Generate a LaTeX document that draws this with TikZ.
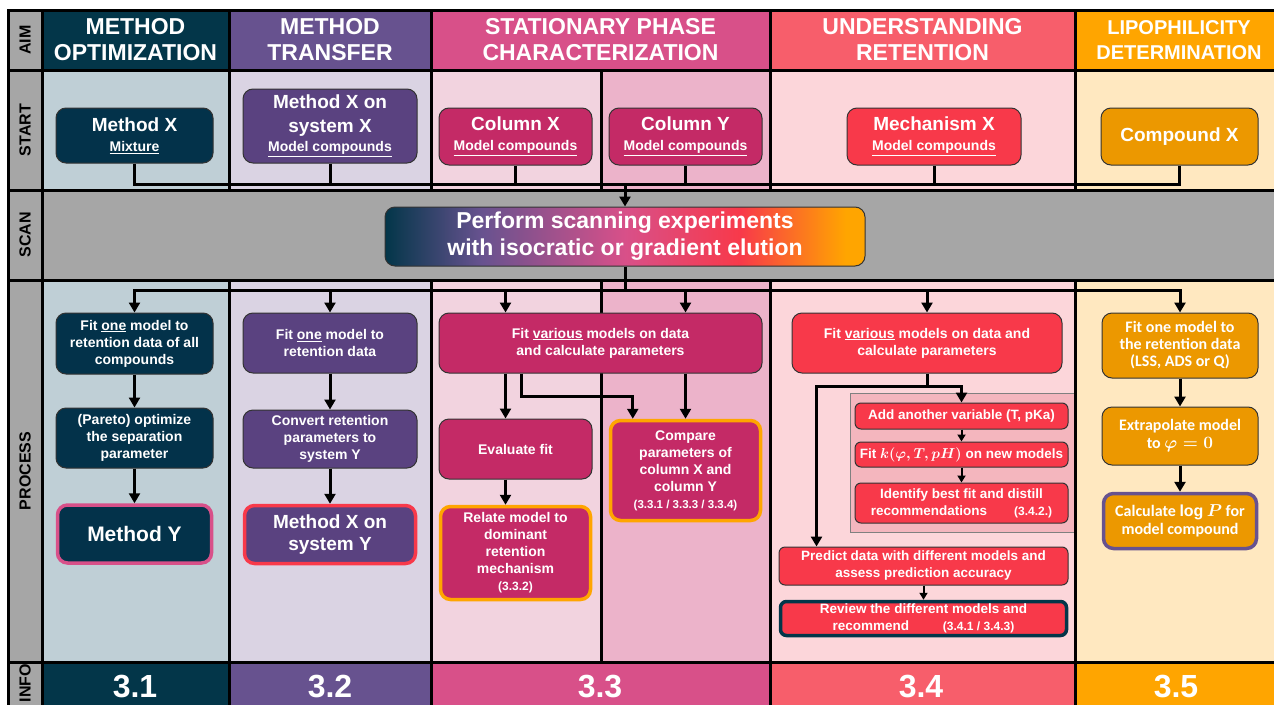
\documentclass[tikz,border=0pt]{standalone}
\usepackage{fontspec}
\setmainfont{Liberation Sans}
\newfontfamily\carlito{Carlito}
\usepackage{tikz}
\usetikzlibrary{arrows.meta, positioning, calc}

\definecolor{tealH}{HTML}{033649}
\definecolor{tealN}{HTML}{03324A}
\definecolor{tealL}{HTML}{BFCFD6}
\definecolor{purpH}{HTML}{67528F}
\definecolor{purpN}{HTML}{5A4280}
\definecolor{purpL}{HTML}{DAD3E3}
\definecolor{pinkH}{HTML}{D85089}
\definecolor{pinkN}{HTML}{C42A66}
\definecolor{pinkL}{HTML}{F2D3DF}
\definecolor{pinkM}{HTML}{ECB3CA}
\definecolor{redH}{HTML}{F75E6B}
\definecolor{redN}{HTML}{F8394A}
\definecolor{redL}{HTML}{FCD6DA}
\definecolor{redM}{HTML}{F4B6BE}
\definecolor{orgH}{HTML}{FFA500}
\definecolor{orgN}{HTML}{EC9800}
\definecolor{orgL}{HTML}{FFE8C0}
\definecolor{grayS}{HTML}{A6A6A6}

\pgfdeclarehorizontalshading{scanshade}{100bp}{color(0bp)=(tealH); color(25bp)=(tealH);
  color(35bp)=(purpH); color(50bp)=(pinkH); color(62bp)=(redN); color(73bp)=(orgH); color(100bp)=(orgH)}

\begin{document}
\begin{tikzpicture}[x=1pt, y=-1pt,
  hdr/.style={text=white, font=\bfseries\fontsize{23}{26}\selectfont, align=center},
  lbl/.style={rotate=90, font=\bfseries\fontsize{16}{18}\selectfont},
  sbox/.style={draw=black!80, line width=1pt, rounded corners=10pt, text=white, align=center,
               inner sep=2pt, font=\bfseries\fontsize{19}{24}\selectfont},
  pbox/.style={draw=black!80, line width=1pt, rounded corners=10pt, text=white, align=center,
               inner sep=2pt, font=\bfseries\fontsize{14}{17}\selectfont},
  hilite/.style={draw=#1, line width=3.5pt},
  conn/.style={line width=3pt},
  arr/.style={line width=3pt, -{Triangle[length=10pt, width=11pt]}},
  sarr/.style={line width=2pt, -{Triangle[length=7pt, width=8pt]}},
  info/.style={text=white, font=\bfseries\fontsize{32}{34}\selectfont}
]
  \useasboundingbox (0,0) rectangle (1274,704);
  \clip (0,0) rectangle (1274,704);

  % cells
  \fill[grayS] (8,10) rectangle (1290,720);
  \foreach \xa/\xb/\c in {42/229/tealL, 229/431/purpL, 431/601/pinkL, 601/770/pinkM, 770/1075/redL, 1075/1290/orgL} {
    \fill[\c] (\xa,70) rectangle (\xb,190);
    \fill[\c] (\xa,280) rectangle (\xb,662);
  }
  \foreach \xa/\xb/\c in {42/229/tealH, 229/431/purpH, 431/770/pinkH, 770/1075/redH, 1075/1290/orgH} {
    \fill[\c] (\xa,10) rectangle (\xb,70);
    \fill[\c] (\xa,662) rectangle (\xb,720);
  }
  \fill[redM, draw=black!50, line width=0.8pt] (850,393) rectangle (1075,532);

  % grid
  \begin{scope}[line width=3pt]
    \draw (8,720) -- (8,10) -- (1290,10);
    \foreach \y in {70,190,280,662} \draw (8,\y) -- (1290,\y);
    \draw (42,10) -- (42,720);
    \foreach \x in {229,431,770,1075} {
      \draw (\x,10) -- (\x,190);
      \draw (\x,280) -- (\x,720);
    }
    \draw (601,70) -- (601,190);
    \draw (601,280) -- (601,662);
  \end{scope}

  % row labels
  \node[lbl] (lAim) at (25,40) {AIM};
  \node[lbl] (lStart) at (25,130) {START};
  \node[lbl] (lScan) at (25,235) {SCAN};
  \node[lbl] (lProc) at (25,471) {PROCESS};
  \node[lbl] (lInfo) at (25,683) {INFO};

  % aims
  \node[hdr] (h1) at (135.5,40) {METHOD\\OPTIMIZATION};
  \node[hdr] (h2) at (330,40) {METHOD\\TRANSFER};
  \node[hdr] (h3) at (600.5,40) {STATIONARY PHASE\\CHARACTERIZATION};
  \node[hdr] (h4) at (922.5,40) {UNDERSTANDING\\RETENTION};
  \node[hdr, font=\bfseries\fontsize{20}{25}\selectfont] (h5) at (1179,40) {LIPOPHILICITY\\DETERMINATION};

  % start
  \node[sbox, fill=tealN, minimum width=157pt, minimum height=55pt] (s1) at (134.5,135.5)
    {Method X\\[-4pt]{\fontsize{14}{17}\selectfont\underline{Mixture}}};
  \node[sbox, fill=purpN, minimum width=174pt, minimum height=74pt] (s2) at (330,126)
    {Method X on\\system X\\[-5pt]{\fontsize{14}{17}\selectfont\underline{Model compounds}}};
  \node[sbox, fill=pinkN, minimum width=153pt, minimum height=57pt] (s3a) at (515.5,136.5)
    {Column X\\[-4pt]{\fontsize{14}{17}\selectfont\underline{Model compounds}}};
  \node[sbox, fill=pinkN, minimum width=153pt, minimum height=57pt] (s3b) at (685.5,136.5)
    {Column Y\\[-4pt]{\fontsize{14}{17}\selectfont\underline{Model compounds}}};
  \node[sbox, fill=redN, minimum width=174pt, minimum height=57pt] (s4) at (934,136.5)
    {Mechanism X\\[-4pt]{\fontsize{14}{17}\selectfont\underline{Model compounds}}};
  \node[sbox, fill=orgN, minimum width=157pt, minimum height=57pt] (s5) at (1179.5,136.5) {Compound X};

  % scan
  \node[draw=black!80, line width=1pt, rounded corners=10pt, shading=scanshade,
        minimum width=480pt, minimum height=59pt, text=white, align=center,
        font=\bfseries\fontsize{23}{27}\selectfont] (scan) at (625,236.5)
    {Perform scanning experiments\\with isocratic or gradient elution};

  % process: optimization
  \node[pbox, fill=tealN, minimum width=157pt, minimum height=61pt] (p1a) at (134.5,343.5)
    {Fit \underline{one} model to\\retention data of all\\compounds};
  \node[pbox, fill=tealN, minimum width=157pt, minimum height=60pt] (p1b) at (134.5,438)
    {(Pareto) optimize\\the separation\\parameter};
  \node[pbox, fill=tealN, hilite=pinkH, minimum width=154pt, minimum height=58pt,
        font=\bfseries\fontsize{21}{24}\selectfont] (p1c) at (134.5,534) {Method Y};

  % process: transfer
  \node[pbox, fill=purpN, minimum width=174pt, minimum height=60pt] (p2a) at (330,343)
    {Fit \underline{one} model to\\retention data};
  \node[pbox, fill=purpN, minimum width=174pt, minimum height=58pt] (p2b) at (330,439)
    {Convert retention\\parameters to\\system Y};
  \node[pbox, fill=purpN, hilite=redN, minimum width=171pt, minimum height=58pt,
        font=\bfseries\fontsize{19}{22}\selectfont] (p2c) at (330,534.5) {Method X on\\system Y};

  % process: stationary phase
  \node[pbox, fill=pinkN, minimum width=323pt, minimum height=60pt] (p3a) at (600.5,343)
    {Fit \underline{various} models on data\\and calculate parameters};
  \node[pbox, fill=pinkN, minimum width=153pt, minimum height=60pt] (ev) at (515.5,449) {Evaluate fit};
  \node[pbox, fill=pinkN, hilite=orgH, minimum width=150pt, minimum height=93pt] (rel) at (515.5,553)
    {Relate model to\\dominant\\retention\\mechanism\\{\fontsize{12}{13}\selectfont(3.3.2)}};
  \node[pbox, fill=pinkN, hilite=orgH, minimum width=150pt, minimum height=100pt] (cmp) at (685.5,470.5)
    {Compare\\parameters of\\column X and\\column Y\\{\fontsize{11.5}{14}\selectfont(3.3.1 / 3.3.3 / 3.3.4)}};
  \coordinate (t3l) at ($(p3a.north west)+(67,0)$);

  % process: retention
  \node[pbox, fill=redN, minimum width=270pt, minimum height=60pt] (p4a) at (927,343)
    {Fit \underline{various} models on data and\\calculate parameters};
  \node[pbox, fill=redN, font=\bfseries\fontsize{13.5}{17}\selectfont, minimum width=213pt, minimum height=26pt,
        rounded corners=6pt] (add) at (961.5,416) {Add another variable (T, pKa)};
  \node[pbox, fill=redN, font=\bfseries\fontsize{13.5}{17}\selectfont, minimum width=213pt, minimum height=25pt,
        rounded corners=6pt] (fitk) at (961.5,454.5) {Fit {\boldmath$k(\varphi,T,pH)$} on new models};
  \node[pbox, fill=redN, font=\bfseries\fontsize{13.5}{17}\selectfont, minimum width=213pt, minimum height=40pt,
        rounded corners=6pt] (idn) at (961.5,503)
    {Identify best fit and distill\\recommendations\hspace{2em}{\fontsize{12}{13}\selectfont(3.4.2.)}};
  \node[pbox, fill=redN, font=\bfseries\fontsize{13.5}{17}\selectfont, minimum width=289pt, minimum height=38pt,
        rounded corners=6pt] (pred) at (923.5,566)
    {Predict data with different models and\\assess prediction accuracy};
  \node[pbox, fill=redN, hilite=tealH, font=\bfseries\fontsize{13.5}{17}\selectfont, minimum width=286pt,
        minimum height=34pt, rounded corners=6pt] (rev) at (923.5,618.5)
    {Review the different models and\\recommend\hspace{2.5em}{\fontsize{12}{13}\selectfont(3.4.1 / 3.4.3)}};

  % process: lipophilicity
  \node[pbox, fill=orgN, font=\carlito\bfseries\fontsize{16}{17}\selectfont, minimum width=156pt,
        minimum height=65pt] (p5a) at (1180,345.5) {Fit one model to\\the retention data\\(LSS, ADS or Q)};
  \node[pbox, fill=orgN, font=\carlito\bfseries\fontsize{16}{18}\selectfont, minimum width=156pt,
        minimum height=58pt] (p5b) at (1180,436) {Extrapolate model\\to {\boldmath$\varphi = 0$}};
  \node[pbox, fill=orgN, hilite=purpH, font=\carlito\bfseries\fontsize{16}{18}\selectfont, minimum width=153pt,
        minimum height=55pt] (p5c) at (1180,521) {Calculate {\boldmath$\log P$} for\\model compound};

  % info
  \node[info] (i1) at (135,686) {3.1};
  \node[info] (i2) at (330,686) {3.2};
  \node[info] (i3) at (600,686) {3.3};
  \node[info] (i4) at (921,686) {3.4};
  \node[info] (i5) at (1176,686) {3.5};

  % start -> scan
  \coordinate (busA) at (625,184);
  \foreach \n in {s1,s2,s3a,s3b,s4,s5}
    \draw[conn] (\n.south) |- (busA);
  \draw[arr] (busA) -- (scan.north);

  % scan -> process
  \coordinate (busB) at (625,290);
  \draw[conn] (scan.south) -- (busB);
  \foreach \n in {p1a,p2a,p4a,p5a}
    \draw[arr] (busB) -| (\n.north);
  \draw[arr] (busB) -| (t3l);
  \draw[arr] (busB) -| (p3a.north -| cmp.north);

  \draw[arr] (p1a) -- (p1b);
  \draw[arr] (p1b) -- (p1c);
  \draw[arr] (p2a) -- (p2b);
  \draw[arr] (p2b) -- (p2c);

  \draw[arr] (p3a.south -| t3l) -- (ev.north -| t3l);
  \draw[arr] ($(p3a.south west)+(83,0)$) |- ($(cmp.north west)+(24,-22)$) -- ($(cmp.north west)+(24,0)$);
  \draw[arr] (p3a.south -| cmp.north) -- (cmp.north);
  \draw[arr] (ev.south -| t3l) -- (rel.north -| t3l);

  \draw[conn] (p4a.south) -- ++(0,13) coordinate (j4);
  \draw[arr] (j4) -| (add.north);
  \draw[arr] (j4) -| ($(pred.north west)+(38,0)$);
  \draw[sarr] (add) -- (fitk);
  \draw[sarr] (fitk) -- (idn);
  \draw[sarr] (pred) -- (rev);

  \draw[arr] (p5a) -- (p5b);
  \draw[arr] (p5b) -- (p5c);
\end{tikzpicture}
\end{document}
